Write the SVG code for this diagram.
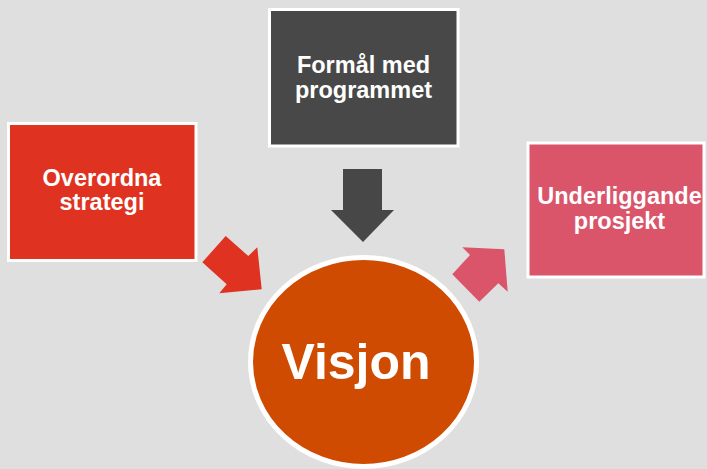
<svg xmlns="http://www.w3.org/2000/svg" width="707" height="469" viewBox="0 0 707 469">
<style>
.box{stroke:#fff;stroke-width:3}
.t{font-family:"Liberation Sans",Arial,sans-serif;font-weight:bold;fill:#fff;text-anchor:middle}
.s{font-size:23.5px}
</style>
<rect width="707" height="469" fill="#dfdfdf"/>
<g id="connectors">
<polygon fill="#e03220" points="225.7,236 202.3,262.3 226.7,284.3 219.3,293.3 261.7,289.3 257.3,247.3 248.3,256"/>
<polygon fill="#474747" points="343,169 382,169 382,210 394,210 363,242 331,210 343,210"/>
<polygon fill="#da546a" points="462.3,247.3 504.3,249.3 507.7,291.7 498.3,283.3 479.3,301.7 452.3,274.3 470,255"/>
</g>
<g id="overordna">
<rect class="box" x="8.5" y="123.5" width="187.5" height="137" fill="#e03220"/>
<text class="t s" x="102" y="185.5">Overordna</text>
<text class="t s" x="102" y="210">strategi</text>
</g>
<g id="formal">
<rect class="box" x="269.5" y="9.5" width="188.5" height="136.5" fill="#484848"/>
<text class="t s" x="363.5" y="73">Formål med</text>
<text class="t s" x="363.5" y="97.5">programmet</text>
</g>
<g id="underliggande">
<rect class="box" x="528" y="143" width="176" height="134" fill="#da546a"/>
<text class="t s" x="619.5" y="204">Underliggande</text>
<text class="t s" x="619.5" y="229">prosjekt</text>
</g>
<g id="visjon">
<ellipse cx="363.5" cy="362" rx="113" ry="104.5" fill="#d04b02" stroke="#fff" stroke-width="5"/>
<text class="t" x="356" y="379" font-size="50">Visjon</text>
</g>
</svg>
